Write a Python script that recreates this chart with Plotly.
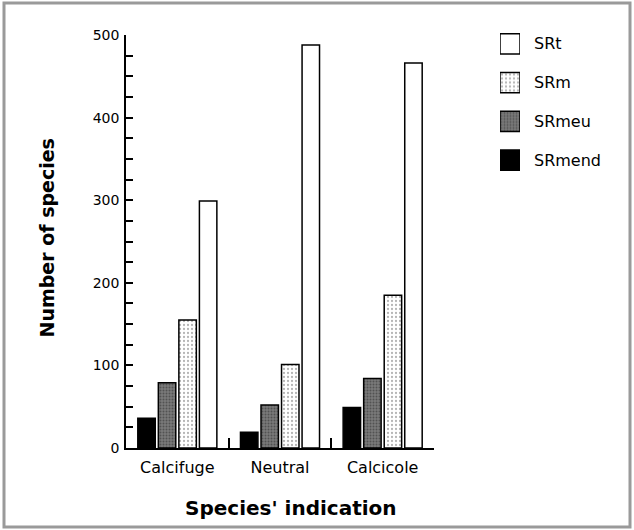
import plotly.graph_objects as go

categories = ["Calcifuge", "Neutral", "Calcicole"]
series_names = ["SRmend", "SRmeu", "SRm", "SRt"]
sr_mend = [36, 19, 49]
sr_meu = [79, 52, 84]
sr_m = [155, 101, 185]
sr_t = [299, 488, 466]
y_ticks = [0, 100, 200, 300, 400, 500]

values = [sr_mend, sr_meu, sr_m, sr_t]

W, H = 634, 530
FONT = "DejaVu Sans"

def px_x(p):
    return p / W

def px_y(p):
    return (H - p) / H

styles = {
    "SRmend": dict(color="#000000", pattern=None),
    "SRmeu": dict(color="#7a7a7a",
                  pattern=dict(shape=".", fgcolor="#2a2a2a", size=3, solidity=0.35, fillmode="overlay")),
    "SRm": dict(color="#ffffff",
                pattern=dict(shape=".", fgcolor="#6a6a6a", bgcolor="#ffffff", size=4, solidity=0.25, fillmode="overlay")),
    "SRt": dict(color="#ffffff", pattern=None),
}

fig = go.Figure()

for name, vals in zip(series_names, values):
    st = styles[name]
    marker = dict(color=st["color"], line=dict(color="#000000", width=1.5))
    if st["pattern"]:
        marker["pattern"] = st["pattern"]
    fig.add_trace(go.Bar(x=categories, y=vals, name=name, marker=marker,
                         xaxis="x", yaxis="y", showlegend=False, hoverinfo="x+y+name"))

# legend swatches on a small auxiliary axis
for name in series_names:
    st = styles[name]
    marker = dict(color=st["color"], line=dict(color="#000000", width=1.5))
    if st["pattern"]:
        marker["pattern"] = st["pattern"]
    fig.add_trace(go.Bar(y=[name], x=[1], orientation="h", width=0.52, offset=-0.26,
                         marker=marker, xaxis="x3", yaxis="y3", showlegend=False,
                         hoverinfo="skip"))

fig.update_layout(
    width=W, height=H,
    margin=dict(l=0, r=0, t=0, b=0, pad=0, autoexpand=False),
    paper_bgcolor="white", plot_bgcolor="white",
    barmode="group", bargap=0.2, bargroupgap=0.15,
    font=dict(family=FONT, color="black", size=14),
    showlegend=False,
    xaxis=dict(domain=[px_x(126), px_x(434)], type="category", categoryorder="array",
               categoryarray=categories, anchor="y", automargin=False,
               showline=True, linecolor="black", linewidth=1.5,
               ticks="inside", tickson="boundaries", ticklen=10, tickwidth=1.5, tickcolor="black",
               tickfont=dict(size=16, family=FONT), ticklabelstandoff=4,
               showgrid=False, zeroline=False),
    yaxis=dict(domain=[px_y(448), px_y(35)], range=[0, 500], tickvals=y_ticks, anchor="x",
               automargin=False,
               showline=True, linecolor="black", linewidth=1.5,
               ticks="inside", ticklen=7, tickwidth=1.5, tickcolor="black",
               minor=dict(dtick=25, ticks="inside", ticklen=7, tickwidth=1.5, tickcolor="black", showgrid=False),
               tickfont=dict(size=14, family=FONT), ticklabelstandoff=2,
               showgrid=False, zeroline=False),
    yaxis2=dict(overlaying="y", side="right", anchor="x", range=[0, 500], tickvals=y_ticks,
                automargin=False,
                showline=True, linecolor="black", linewidth=1.5,
                ticks="inside", ticklen=7, tickwidth=1.5, tickcolor="black",
                minor=dict(dtick=25, ticks="inside", ticklen=7, tickwidth=1.5, tickcolor="black", showgrid=False),
                tickfont=dict(size=14, family=FONT), ticklabelstandoff=7,
                showgrid=False, zeroline=False),
    xaxis3=dict(domain=[px_x(500), px_x(520)], range=[0, 1], anchor="y3",
                visible=False, fixedrange=True, automargin=False),
    yaxis3=dict(domain=[px_y(179.5), px_y(24.5)], type="category", categoryorder="array",
                categoryarray=series_names, range=[-0.5, 3.5], anchor="x3", side="right",
                automargin=False,
                showline=False, ticks="", showgrid=False, zeroline=False,
                tickfont=dict(size=16, family=FONT), ticklabelstandoff=13, fixedrange=True),
    annotations=[
        dict(text="<b>Number of species</b>", xref="paper", yref="paper",
             x=px_x(46.5), y=px_y(238), textangle=-90, showarrow=False,
             font=dict(size=19, family=FONT), xanchor="center", yanchor="middle"),
        dict(text="<b>Species' indication</b>", xref="paper", yref="paper",
             x=px_x(291), y=px_y(508), showarrow=False,
             font=dict(size=20, family=FONT), xanchor="center", yanchor="middle"),
    ],
    shapes=[
        dict(type="rect", xref="paper", yref="paper",
             x0=px_x(4), x1=px_x(630), y0=px_y(527), y1=px_y(3),
             line=dict(color="#9a9a9a", width=3)),
    ],
)

post = (
    "var h=document.documentElement, b=document.body;"
    "h.style.margin='0';h.style.padding='0';h.style.overflow='hidden';"
    "b.style.margin='0';b.style.padding='0';b.style.overflow='hidden';"
    "var d=document.getElementById('{plot_id}');"
    "if(d&&d.parentElement){d.parentElement.style.fontSize='0';d.parentElement.style.lineHeight='0';"
    "d.parentElement.style.margin='0';d.parentElement.style.padding='0';}"
    "if(d){d.style.display='block';}"
)

fig.write_html(
    "out.html",
    config={"displayModeBar": False},
    post_script=post,
)
